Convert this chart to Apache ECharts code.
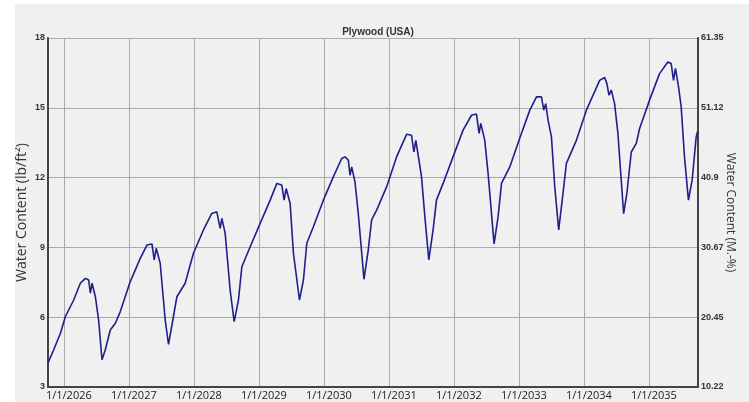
<!DOCTYPE html>
<html><head><meta charset="utf-8">
<script src="https://cdn.jsdelivr.net/npm/echarts@6/dist/echarts.min.js"></script>
<style>
html,body{margin:0;padding:0;background:#ffffff;width:749px;height:402px;overflow:hidden}
#c{position:absolute;left:15px;top:4px;width:734px;height:398px;background:#f0f0f0}
</style>
</head><body><div id="c"></div>
<script>
const titleText = 'Plywood (USA)';
const leftName = 'Water Content (lb/ft²)';
const rightName = 'Water Content (M.-%)';
const xStart = [2025, 9, 1];
const xEnd = [2035, 9, 1];
const leftTicks = [3, 6, 9, 12, 15, 18];
const rightTicks = ['10.22', '20.45', '30.67', '40.9', '51.12', '61.35'];

// decimal years
const years = [
  2025.750, 2025.836, 2025.939, 2026.016, 2026.143, 2026.246, 2026.323, 2026.374, 2026.400, 2026.426,
  2026.477, 2026.527, 2026.579, 2026.630, 2026.707, 2026.784, 2026.861, 2027.014, 2027.168, 2027.271,
  2027.348, 2027.383, 2027.414, 2027.475, 2027.552, 2027.603, 2027.679, 2027.732, 2027.859, 2027.987,
  2028.140, 2028.269, 2028.346, 2028.397, 2028.423, 2028.474, 2028.550, 2028.612, 2028.678, 2028.730,
  2028.858, 2029.011, 2029.165, 2029.268, 2029.344, 2029.380, 2029.411, 2029.472, 2029.523, 2029.616,
  2029.677, 2029.729, 2029.830, 2029.984, 2030.137, 2030.266, 2030.317, 2030.368, 2030.394, 2030.420,
  2030.470, 2030.521, 2030.609, 2030.675, 2030.727, 2030.804, 2030.957, 2031.111, 2031.265, 2031.341,
  2031.377, 2031.407, 2031.443, 2031.495, 2031.546, 2031.607, 2031.673, 2031.725, 2031.827, 2031.980,
  2032.134, 2032.263, 2032.340, 2032.380, 2032.406, 2032.467, 2032.518, 2032.610, 2032.672, 2032.724,
  2032.851, 2033.005, 2033.159, 2033.262, 2033.338, 2033.374, 2033.404, 2033.440, 2033.492, 2033.543,
  2033.604, 2033.670, 2033.722, 2033.876, 2034.030, 2034.234, 2034.311, 2034.346, 2034.377, 2034.414,
  2034.464, 2034.515, 2034.603, 2034.653, 2034.721, 2034.798, 2034.848, 2035.002, 2035.156, 2035.283,
  2035.335, 2035.371, 2035.401, 2035.452, 2035.489, 2035.540, 2035.601, 2035.658, 2035.720, 2035.744
];
const values = [
  4.05, 4.60, 5.31, 6.03, 6.74, 7.46, 7.67, 7.60, 7.03, 7.46,
  6.88, 5.88, 4.17, 4.60, 5.45, 5.74, 6.24, 7.53, 8.53, 9.10,
  9.15, 8.46, 8.96, 8.32, 5.88, 4.83, 6.03, 6.88, 7.46, 8.75,
  9.75, 10.46, 10.53, 9.82, 10.25, 9.60, 7.17, 5.81, 6.74, 8.17,
  9.03, 10.03, 11.03, 11.75, 11.68, 11.03, 11.53, 10.90, 8.75, 6.74,
  7.60, 9.18, 9.89, 11.03, 12.03, 12.82, 12.89, 12.75, 12.10, 12.46,
  11.82, 10.46, 7.63, 8.89, 10.18, 10.60, 11.60, 12.89, 13.86, 13.82,
  13.10, 13.60, 12.97, 12.03, 10.32, 8.46, 9.75, 11.03, 11.75, 12.89,
  14.04, 14.68, 14.73, 13.90, 14.33, 13.60, 12.18, 9.15, 10.32, 11.75,
  12.46, 13.70, 14.90, 15.47, 15.47, 14.90, 15.18, 14.47, 13.75, 11.60,
  9.75, 11.32, 12.61, 13.60, 14.90, 16.18, 16.30, 16.04, 15.54, 15.76,
  15.18, 13.90, 10.45, 11.32, 13.10, 13.47, 14.10, 15.33, 16.47, 16.97,
  16.90, 16.18, 16.69, 15.83, 15.04, 12.89, 11.03, 11.89, 13.75, 14.00
];

function yearToTime(t) {
  const y = Math.floor(t);
  const s = new Date(y, 0, 1).getTime(), e = new Date(y + 1, 0, 1).getTime();
  return s + (t - y) * (e - s);
}
const seriesData = years.map((t, i) => [yearToTime(t), values[i]]);
const DAY = 86400000;

const chart = echarts.init(document.getElementById('c'), null, {renderer: 'canvas'});
chart.setOption({
  animation: false,
  backgroundColor: '#f0f0f0',
  title: {
    text: titleText, left: 358, top: 18, textAlign: 'center',
    textStyle: {fontFamily: 'Liberation Sans, Arial, sans-serif', fontSize: 10, fontWeight: 'bold', color: '#333'}
  },
  grid: {left: 33, right: 51, top: 34, bottom: 15, containLabel: false, outerBoundsMode: 'none'},
  xAxis: {
    type: 'time',
    min: new Date(xStart[0], xStart[1], xStart[2]).getTime(),
    max: new Date(xEnd[0], xEnd[1], xEnd[2]).getTime(),
    minInterval: 365 * DAY, maxInterval: 366 * DAY,
    axisLine: {show: true, onZero: false, lineStyle: {color: '#444', width: 2}},
    axisTick: {show: false},
    axisLabel: {
      formatter: '{M}/{d}/{yyyy}', showMinLabel: false, showMaxLabel: false,
      fontFamily: 'Open Sans, sans-serif', fontSize: 11, color: '#222', margin: 3,
      padding: [0, 0, 0, 9]
    },
    splitLine: {show: true, lineStyle: {color: '#aaaaaa', width: 1}}
  },
  yAxis: [{
    type: 'value', min: leftTicks[0], max: leftTicks[leftTicks.length - 1], interval: 3,
    position: 'left',
    name: leftName, nameLocation: 'middle', nameGap: 19, nameRotate: 90, nameMoveOverlap: false,
    nameTextStyle: {fontFamily: 'Open Sans, sans-serif', fontSize: 14, color: '#333'},
    axisLine: {show: true, lineStyle: {color: '#444', width: 2}},
    axisTick: {show: false},
    axisLabel: {fontFamily: 'Liberation Sans, Arial, sans-serif', fontSize: 9, fontWeight: 'bold', color: '#333', margin: 3,
      showMinLabel: true, showMaxLabel: true},
    splitLine: {show: true, lineStyle: {color: '#aaaaaa', width: 1}}
  }, {
    type: 'value', min: 0, max: rightTicks.length - 1, interval: 1,
    position: 'right',
    name: rightName, nameLocation: 'middle', nameGap: 26, nameRotate: -90, nameMoveOverlap: false,
    nameTextStyle: {fontFamily: 'Open Sans, sans-serif', fontSize: 12, color: '#333'},
    axisLine: {show: true, lineStyle: {color: '#444', width: 2}},
    axisTick: {show: false},
    axisLabel: {fontFamily: 'Liberation Sans, Arial, sans-serif', fontSize: 9, fontWeight: 'bold', color: '#333', margin: 3,
      showMinLabel: true, showMaxLabel: true,
      formatter: (v) => rightTicks[Math.round(v)]},
    splitLine: {show: false}
  }],
  series: [{
    type: 'line', yAxisIndex: 0, data: seriesData, showSymbol: false, smooth: false,
    lineStyle: {color: '#1f1f8c', width: 1.6}, itemStyle: {color: '#1f1f8c'}
  }]
});
</script></body></html>
